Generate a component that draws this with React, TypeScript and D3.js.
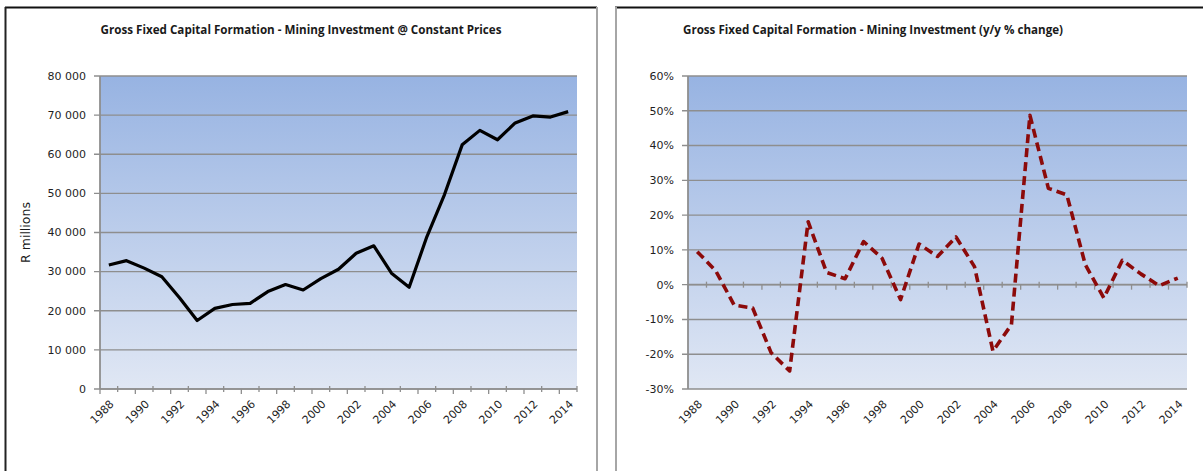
import React from "react";
import * as d3 from "d3";

// categories (one per year)
const years = [
  "1988", "1989", "1990", "1991", "1992", "1993", "1994", "1995", "1996",
  "1997", "1998", "1999", "2000", "2001", "2002", "2003", "2004", "2005",
  "2006", "2007", "2008", "2009", "2010", "2011", "2012", "2013", "2014",
];

// R millions, constant prices
const investment = [
  31700, 32800, 30900, 28700, 23300, 17500, 20600, 21600, 21900,
  24900, 26700, 25300, 28200, 30600, 34700, 36600, 29600, 26000,
  38900, 49700, 62400, 66100, 63700, 68000, 69800, 69500, 70900,
];

// y/y % change
const growth = [
  9.5, 4.0, -5.9, -6.7, -19.6, -24.8, 18.1, 3.5, 1.7,
  12.4, 7.6, -4.3, 11.7, 8.1, 13.7, 5.2, -19.1, -11.5,
  48.7, 27.7, 25.8, 5.7, -3.8, 7.0, 3.1, -0.3, 1.9,
];

const labelYears = [
  "1988", "1990", "1992", "1994", "1996", "1998", "2000",
  "2002", "2004", "2006", "2008", "2010", "2012", "2014",
];
const levelTicks = [0, 10000, 20000, 30000, 40000, 50000, 60000, 70000, 80000];
const pctTicks = [-30, -20, -10, 0, 10, 20, 30, 40, 50, 60];

const leftTitle = "Gross Fixed Capital Formation - Mining Investment @ Constant Prices";
const rightTitle = "Gross Fixed Capital Formation - Mining Investment (y/y % change)";

const tickFont = "'DejaVu Sans', Verdana, sans-serif";
const titleFont = "'Open Sans', 'Liberation Sans', sans-serif";
const gridColor = "#8e8e8e";

const fmtSpace = (v: number) => d3.format(",")(v).replace(/,/g, " ");

type PanelProps = {
  id: string;
  box: { x0: number; x1: number; y0: number; y1: number };
  domain: [number, number];
  ticks: number[];
  fmt: (v: number) => string;
  values: number[];
  axisAt: number;
  title: string;
  titleX: number;
  titleLen: number;
  stroke: string;
  dash?: string;
  yTitle?: string;
};

function Panel(p: PanelProps) {
  const { x0, x1, y0, y1 } = p.box;
  const x = d3.scaleBand<string>().domain(years).range([x0, x1]).paddingInner(0).paddingOuter(0);
  const y = d3.scaleLinear().domain(p.domain).range([y1, y0]);
  const bw = x.bandwidth();
  const cx = (yr: string) => (x(yr) as number) + bw / 2;

  const line = d3
    .line<number>()
    .x((_, i) => cx(years[i]))
    .y((d) => y(d));

  const axisY = y(p.axisAt);
  const bounds = years.map((yr) => x(yr) as number).concat([x1]);

  return (
    <g>
      <defs>
        <linearGradient id={p.id + "-bg"} x1="0" y1="0" x2="0" y2="1">
          <stop offset="0%" stopColor="#97b3e2" />
          <stop offset="100%" stopColor="#e0e7f4" />
        </linearGradient>
      </defs>
      <text
        x={p.titleX}
        y={34}
        textAnchor="middle"
        fontFamily={titleFont}
        fontWeight={700}
        fontSize={11.8}
        fill="#1a1a1a"
        textLength={p.titleLen}
        lengthAdjust="spacingAndGlyphs"
      >
        {p.title}
      </text>

      <rect x={x0} y={y0} width={x1 - x0} height={y1 - y0} fill={`url(#${p.id}-bg)`} />

      {p.ticks.map((t) => (
        <g key={t}>
          <line x1={x0 - 6} x2={x1} y1={y(t)} y2={y(t)} stroke={gridColor} strokeWidth={1.4} />
          <text
            x={x0 - 14}
            y={y(t)}
            dy="0.35em"
            textAnchor="end"
            fontFamily={tickFont}
            fontSize={11}
            fill="#1f1f1f"
          >
            {p.fmt(t)}
          </text>
        </g>
      ))}

      <line x1={x0} x2={x0} y1={y0} y2={y1} stroke={gridColor} strokeWidth={1.8} />
      <line x1={x0} x2={x1} y1={axisY} y2={axisY} stroke={gridColor} strokeWidth={1.6} />
      {bounds.map((bx, i) => (
        <line
          key={i}
          x1={bx}
          x2={bx}
          y1={i % 2 === 0 ? axisY : axisY - 3}
          y2={i % 2 === 0 ? axisY + 5 : axisY + 3}
          stroke={gridColor}
          strokeWidth={1.3}
        />
      ))}

      {labelYears.map((yr) => (
        <text
          key={yr}
          transform={`translate(${cx(yr) + 3},${y1 + 13}) rotate(-45)`}
          dy="0.35em"
          textAnchor="end"
          fontFamily={tickFont}
          fontSize={11}
          fill="#1f1f1f"
        >
          {yr}
        </text>
      ))}

      {p.yTitle && (
        <text
          transform={`translate(30,${(y0 + y1) / 2}) rotate(-90)`}
          textAnchor="middle"
          fontFamily={tickFont}
          fontSize={12.5}
          fill="#1a1a1a"
        >
          {p.yTitle}
        </text>
      )}

      <path
        d={line(p.values) || ""}
        fill="none"
        stroke={p.stroke}
        strokeWidth={p.dash ? 3.6 : 3.2}
        strokeDasharray={p.dash}
        strokeLinejoin="round"
      />
    </g>
  );
}

export default function App() {
  const W = 1203;
  const H = 471;
  return (
    <svg width={W} height={H} style={{ position: "absolute", left: 0, top: 0, background: "#fff" }}>
      {/* panel frames */}
      <line x1={5} x2={597} y1={7.5} y2={7.5} stroke="#111" strokeWidth={2} />
      <line x1={5.5} x2={5.5} y1={7} y2={H} stroke="#222" strokeWidth={2} />
      <line x1={597} x2={597} y1={7} y2={H} stroke="#a6a6a6" strokeWidth={2} />
      <line x1={615} x2={W} y1={7.5} y2={7.5} stroke="#111" strokeWidth={2} />
      <line x1={616} x2={616} y1={7} y2={H} stroke="#a6a6a6" strokeWidth={2} />

      <Panel
        id="lvl"
        box={{ x0: 100, x1: 577, y0: 76, y1: 389 }}
        domain={[0, 80000]}
        ticks={levelTicks}
        fmt={fmtSpace}
        values={investment}
        axisAt={0}
        title={leftTitle}
        titleX={301}
        titleLen={401}
        stroke="#000"
        yTitle="R millions"
      />
      <Panel
        id="pct"
        box={{ x0: 688, x1: 1187, y0: 76, y1: 389 }}
        domain={[-30, 60]}
        ticks={pctTicks}
        fmt={(v) => `${v}%`}
        values={growth}
        axisAt={0}
        title={rightTitle}
        titleX={873}
        titleLen={380}
        stroke="#8c0a0a"
        dash="9 5"
      />
    </svg>
  );
}
